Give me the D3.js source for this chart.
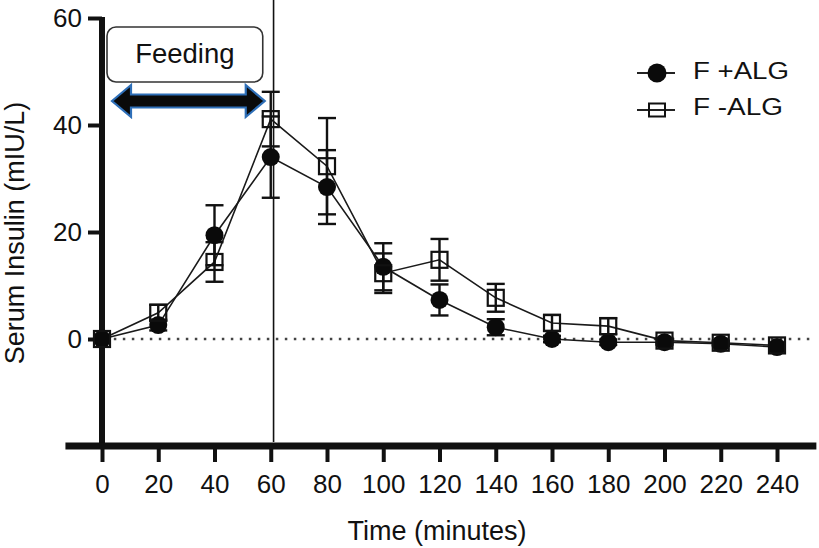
<!DOCTYPE html>
<html>
<head>
<meta charset="utf-8">
<script src="https://cdn.jsdelivr.net/npm/d3@7"></script>
<style>
  html, body { margin: 0; padding: 0; background: #fff; }
  svg { display: block; }
  text { font-family: "Liberation Sans", Arial, Helvetica, sans-serif; fill: #111; }
</style>
</head>
<body>
<svg id="chart" width="819" height="548"></svg>
<script>
// ---- data ----
const times = [0, 20, 40, 60, 80, 100, 120, 140, 160, 180, 200, 220, 240];
const fPlusALG = [0, 2.6, 19.4, 34.0, 28.4, 13.5, 7.3, 2.2, 0.0, -0.6, -0.6, -0.9, -1.5];
const fPlusALGErr = [0.5, 1.0, 5.6, 7.6, 6.9, 4.4, 2.9, 1.5, 0.6, 0.5, 0.5, 0.4, 0.5];
const fMinusALG = [0, 4.9, 14.4, 41.1, 32.3, 12.3, 14.8, 7.7, 3.0, 2.4, -0.3, -0.7, -1.2];
const fMinusALGErr = [0.5, 1.5, 3.7, 5.1, 9.0, 3.7, 3.9, 2.6, 1.5, 1.5, 0.5, 0.4, 0.5];
const xTicks = [0, 20, 40, 60, 80, 100, 120, 140, 160, 180, 200, 220, 240];
const yTicks = [0, 20, 40, 60];
const seriesNames = ["F +ALG", "F -ALG"];
const feedingLabel = "Feeding";
const feedingStart = 0, feedingEnd = 60;
const markerTime = 61;
const xTitle = "Time (minutes)";
const yTitle = "Serum Insulin (mIU/L)";

// ---- scales ----
const svg = d3.select("#chart");
const x = d3.scaleLinear().domain([0, 240]).range([102, 777]);
const y = d3.scaleLinear().domain([-20, 60]).range([446, 18]);

// vertical line at end of feeding
svg.append("line")
  .attr("x1", x(markerTime)).attr("x2", x(markerTime))
  .attr("y1", 0).attr("y2", 442)
  .attr("stroke", "#111").attr("stroke-width", 1.6);

// dotted zero line
svg.append("line")
  .attr("x1", x(1)).attr("x2", x(252))
  .attr("y1", y(0)).attr("y2", y(0))
  .attr("stroke", "#444").attr("stroke-width", 2.5)
  .attr("stroke-dasharray", "2.5,6.5");

// ---- axes ----
const xAxis = d3.axisBottom(x).tickValues(xTicks).tickSize(16).tickPadding(13).tickFormat(d3.format("d"));
const gx = svg.append("g").attr("transform", `translate(0,${y(-20)})`).call(xAxis);
gx.select(".domain").remove();
gx.selectAll(".tick line").attr("stroke", "#111").attr("stroke-width", 4);
gx.selectAll(".tick text").attr("font-size", 26).attr("fill", "#111")
  .style("font-family", '"Liberation Sans", Arial, sans-serif');

const yAxis = d3.axisLeft(y).tickValues(yTicks).tickSize(14).tickPadding(6);
const gy = svg.append("g").attr("transform", `translate(${x(0)},0)`).call(yAxis);
gy.select(".domain").remove();
gy.selectAll(".tick line").attr("stroke", "#111").attr("stroke-width", 4);
gy.selectAll(".tick text").attr("font-size", 26).attr("fill", "#111")
  .style("font-family", '"Liberation Sans", Arial, sans-serif');

// axis lines
svg.append("line")
  .attr("x1", x(0)).attr("x2", x(0))
  .attr("y1", y(60) - 1).attr("y2", y(-20))
  .attr("stroke", "#111").attr("stroke-width", 6);
svg.append("line")
  .attr("x1", x(-13)).attr("x2", x(254))
  .attr("y1", y(-20)).attr("y2", y(-20))
  .attr("stroke", "#111").attr("stroke-width", 7);

// axis titles
svg.append("text").attr("x", 437).attr("y", 540)
  .attr("text-anchor", "middle").attr("font-size", 27).text(xTitle);
svg.append("text").attr("transform", "translate(24,233) rotate(-90)")
  .attr("text-anchor", "middle").attr("font-size", 27).text(yTitle);

// ---- feeding annotation ----
svg.append("rect")
  .attr("x", x(feedingStart) + 5).attr("y", 27)
  .attr("width", x(feedingEnd) - x(feedingStart) - 13).attr("height", 55)
  .attr("rx", 9).attr("ry", 9)
  .attr("fill", "#fff").attr("stroke", "#333").attr("stroke-width", 1.6);
svg.append("text")
  .attr("x", (x(feedingStart) + 5 + x(feedingEnd) - 8) / 2).attr("y", 63)
  .attr("text-anchor", "middle").attr("font-size", 27.5).text(feedingLabel);

{
  const ax0 = x(feedingStart) + 10, ax1 = x(feedingEnd) - 6, cy = 101;
  const hl = 19, hh = 16, sh = 6.5;
  const pts = [
    [ax0, cy], [ax0 + hl, cy - hh], [ax0 + hl, cy - sh], [ax1 - hl, cy - sh],
    [ax1 - hl, cy - hh], [ax1, cy], [ax1 - hl, cy + hh], [ax1 - hl, cy + sh],
    [ax0 + hl, cy + sh], [ax0 + hl, cy + hh]
  ];
  svg.append("polygon")
    .attr("points", pts.map(p => p.join(",")).join(" "))
    .attr("fill", "#0a0a0a").attr("stroke", "#2e6fb8").attr("stroke-width", 2.2)
    .attr("stroke-linejoin", "miter");
}

// ---- series ----
const line = d3.line().x(d => x(d.t)).y(d => y(d.v));
const sPlus = times.map((t, i) => ({ t, v: fPlusALG[i], e: fPlusALGErr[i] }));
const sMinus = times.map((t, i) => ({ t, v: fMinusALG[i], e: fMinusALGErr[i] }));

[sPlus, sMinus].forEach(s => {
  svg.append("path").datum(s).attr("d", line)
    .attr("fill", "none").attr("stroke", "#1a1a1a").attr("stroke-width", 1.6);
});

function errorBars(s) {
  const g = svg.append("g").attr("stroke", "#111").attr("stroke-width", 2.4).attr("fill", "none");
  s.forEach(d => {
    g.append("line").attr("x1", x(d.t)).attr("x2", x(d.t))
      .attr("y1", y(d.v + d.e)).attr("y2", y(d.v - d.e));
    [d.v + d.e, d.v - d.e].forEach(v => {
      g.append("line").attr("x1", x(d.t) - 9).attr("x2", x(d.t) + 9)
        .attr("y1", y(v)).attr("y2", y(v));
    });
  });
}
errorBars(sPlus);
errorBars(sMinus);

svg.append("g").selectAll("circle").data(sPlus).join("circle")
  .attr("cx", d => x(d.t)).attr("cy", d => y(d.v)).attr("r", 9)
  .attr("fill", "#0a0a0a");
svg.append("g").selectAll("rect").data(sMinus).join("rect")
  .attr("x", d => x(d.t) - 8).attr("y", d => y(d.v) - 8)
  .attr("width", 16).attr("height", 16)
  .attr("fill", "none").attr("stroke", "#111").attr("stroke-width", 2.2);

// ---- legend ----
const legendRows = [
  { y: 73, textY: 79, len: 96 },
  { y: 110, textY: 115, len: 90 }
];
const legend = svg.append("g").attr("transform", "translate(637,0)");
seriesNames.forEach((name, i) => {
  const r = legendRows[i];
  const g = legend.append("g");
  g.append("line").attr("x1", 0).attr("x2", 38).attr("y1", r.y).attr("y2", r.y)
    .attr("stroke", "#222").attr("stroke-width", 1.8);
  if (i === 0) {
    g.append("circle").attr("cx", 20).attr("cy", r.y).attr("r", 9.5).attr("fill", "#0a0a0a");
  } else {
    g.append("rect").attr("x", 12).attr("y", r.y - 6.5).attr("width", 16).attr("height", 13)
      .attr("fill", "none").attr("stroke", "#111").attr("stroke-width", 2);
  }
  g.append("text").attr("x", 56).attr("y", r.textY).attr("font-size", 23)
    .attr("textLength", r.len).attr("lengthAdjust", "spacingAndGlyphs").text(name);
});
</script>
</body>
</html>
